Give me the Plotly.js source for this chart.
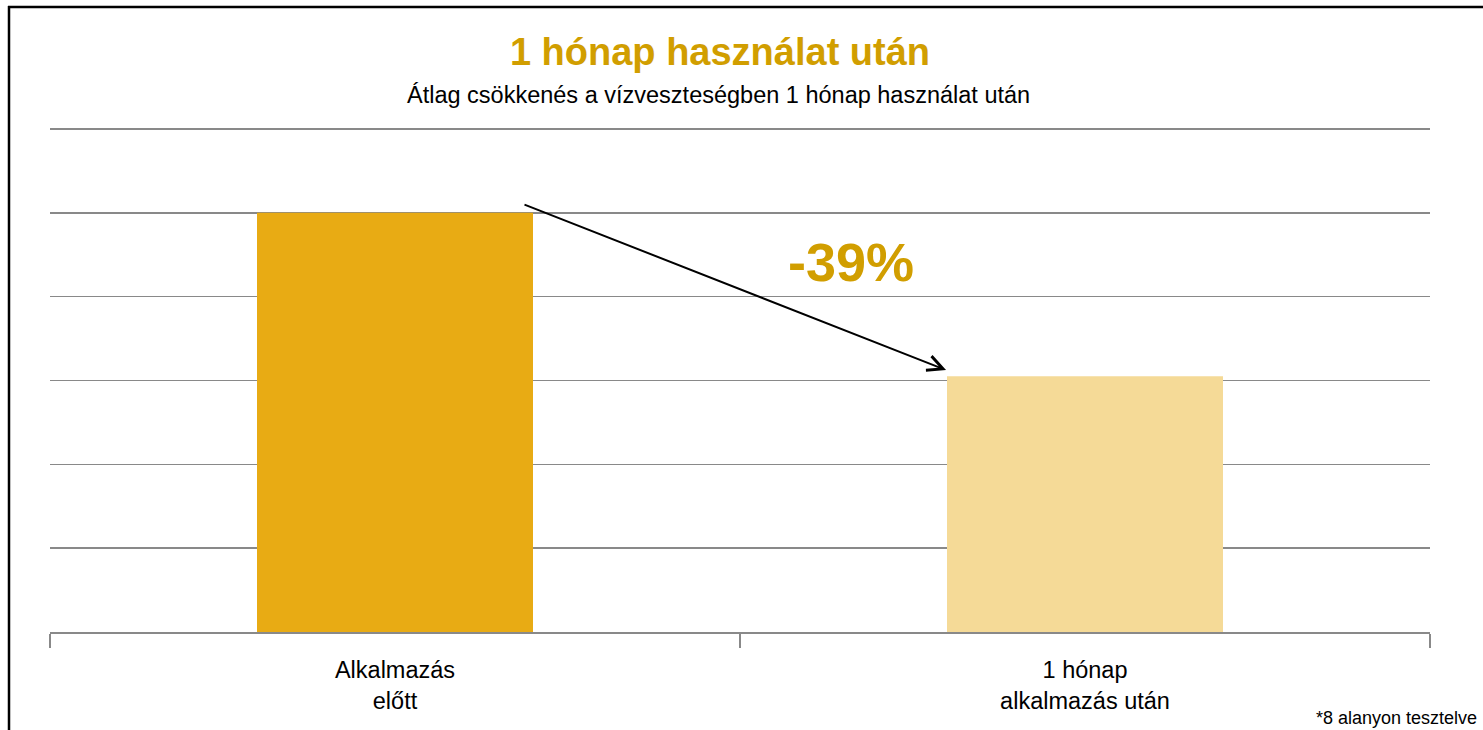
<!DOCTYPE html>
<html>
<head>
<meta charset="utf-8">
<script src="https://cdn.plot.ly/plotly-3.0.1.min.js"></script>
<style>
html,body{margin:0;padding:0;background:#fff;}
#chart{width:1483px;height:730px;}
</style>
</head>
<body>
<div id="chart"></div>
<script>
const categories = ["Alkalmazás<br>előtt", "1 hónap<br>alkalmazás után"];
const values = [5, 3.05];
const barColors = ["#E8AB14", "#F5DA97"];
const titleText = "1 hónap használat után";
const subtitleText = "Átlag csökkenés a vízveszteségben 1 hónap használat után";
const changeLabel = "-39%";
const footnote = "*8 alanyon tesztelve";

const W = 1483, H = 730;
const m = {l: 50, r: 53, t: 125, b: 98};
const pw = W - m.l - m.r, ph = H - m.t - m.b;
const yMax = ph / ((632 - 129) / 6);
const px = v => (v - m.l) / pw;
const py = v => (H - m.b - v) / ph;

const trace = {
  type: "bar",
  x: categories,
  y: values,
  marker: {color: barColors},
  hoverinfo: "none"
};

const layout = {
  width: W, height: H,
  margin: m,
  paper_bgcolor: "#fff",
  plot_bgcolor: "#fff",
  bargap: 0.6,
  showlegend: false,
  font: {family: "Liberation Sans, Arial, sans-serif", color: "#000"},
  title: {
    text: "<b>" + titleText + "</b>",
    font: {family: "Liberation Sans, Arial, sans-serif", size: 38, color: "#D19E00"},
    xref: "container", yref: "container",
    x: 720 / W, y: 1 - 52 / H, xanchor: "center", yanchor: "middle"
  },
  xaxis: {
    type: "category",
    range: [-0.5, 1.5],
    showline: true, linecolor: "#898989", linewidth: 2,
    ticks: "outside", tickson: "boundaries", ticklen: 14, tickcolor: "#898989", tickwidth: 2,
    tickfont: {size: 23.5, color: "#000"},
    ticklabelstandoff: 16,
    showgrid: false
  },
  yaxis: {
    range: [0, yMax], dtick: 1, tick0: 0,
    showticklabels: false,
    showgrid: true, gridcolor: "#898989", gridwidth: 1.5,
    zeroline: false, showline: false, ticks: ""
  },
  annotations: [
    {
      text: subtitleText, xref: "paper", yref: "paper",
      x: px(718), y: py(95), xanchor: "center", yanchor: "middle",
      showarrow: false, font: {size: 23.5, color: "#000"}
    },
    {
      text: "<b>" + changeLabel + "</b>", xref: "x", yref: "y",
      x: 0.661, y: 4.414, xanchor: "center", yanchor: "middle",
      showarrow: false, font: {size: 54, color: "#D19E00"}
    },
    {
      text: "", xref: "x", yref: "y", axref: "x", ayref: "y",
      x: 0.7986, y: 3.125, ax: 0.1855, ay: 5.105,
      showarrow: true, arrowhead: 5, arrowsize: 1.5, arrowwidth: 2, arrowcolor: "#000"
    },
    {
      text: footnote, xref: "paper", yref: "paper",
      x: px(1479), y: py(718), xanchor: "right", yanchor: "middle",
      showarrow: false, font: {size: 18, color: "#000"}
    }
  ],
  shapes: [
    {type: "line", xref: "paper", yref: "paper", x0: px(9), x1: px(9), y0: py(6), y1: py(730),
     line: {color: "#000", width: 2.5}},
    {type: "line", xref: "paper", yref: "paper", x0: px(8), x1: px(1483), y0: py(7), y1: py(7),
     line: {color: "#000", width: 2.5}}
  ]
};

Plotly.newPlot("chart", [trace], layout, {displayModeBar: false, staticPlot: true});
</script>
</body>
</html>
